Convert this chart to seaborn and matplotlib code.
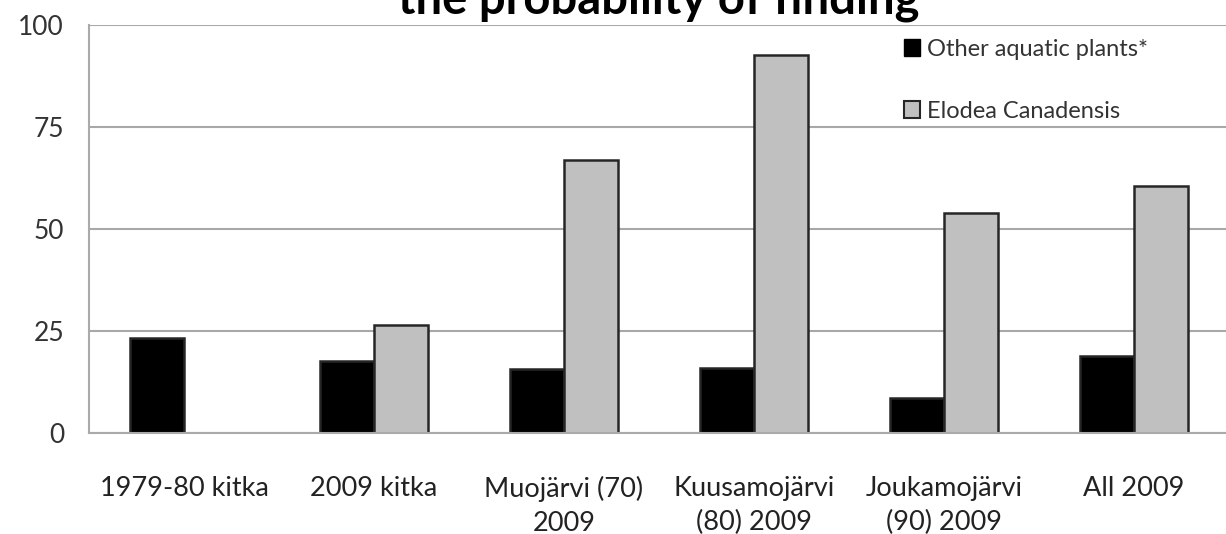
import matplotlib
matplotlib.use("Agg")
import matplotlib.pyplot as plt
import seaborn as sns
import pandas as pd
import numpy as np
from matplotlib.patches import Patch

categories = ["1979-80 kitka", "2009 kitka", "Muojärvi (70)\n2009",
              "Kuusamojärvi\n(80) 2009", "Joukamojärvi\n(90) 2009", "All 2009"]
other_plants = [23.3, 17.6, 15.7, 16.0, 8.7, 18.9]
elodea = [np.nan, 26.4, 66.9, 92.6, 53.9, 60.5]
series_names = ["Other aquatic plants*", "Elodea Canadensis"]
y_ticks = [0, 25, 50, 75, 100]
title = "the probability of finding"

sns.set_theme(style="white")
plt.rcParams['font.family'] = ['Lato', 'DejaVu Sans']

df = pd.DataFrame({
    "category": categories * 2,
    "value": other_plants + elodea,
    "series": [series_names[0]] * len(categories) + [series_names[1]] * len(categories),
})

fig = plt.figure(figsize=(12.26, 5.34), dpi=100)
ax = fig.add_axes([89 / 1226, 1 - 433 / 534, (1229 - 89) / 1226, (433 - 25) / 534])

sns.barplot(data=df, x="category", y="value", hue="series", order=categories,
            hue_order=series_names, palette=["#000000", "#C0C0C0"],
            width=0.57, gap=0, edgecolor="#262626", linewidth=1.8,
            errorbar=None, legend=False, ax=ax)

ax.set_xlim(-0.5, 5.5)
ax.set_ylim(0, 100)
ax.set_yticks(y_ticks)
ax.set_yticklabels([str(t) for t in y_ticks], fontsize=19, color="#333333")
ax.set_xticks(range(len(categories)))
ax.set_xticklabels(categories, fontsize=19.5, color="#222222", linespacing=1.45)
ax.set_xticks(np.arange(-0.5, 6.0, 1.0), minor=True)
ax.tick_params(axis="x", which="major", length=0, pad=31)
ax.tick_params(axis="x", which="minor", length=8, width=1.5, color="#AAAAAA", direction="out")
ax.tick_params(axis="y", which="major", length=9, width=1.5, color="#AAAAAA", direction="out", pad=9)
ax.set_xlabel("")
ax.set_ylabel("")

ax.yaxis.grid(True, color="#A8A8A8", linewidth=1.5)
ax.set_axisbelow(True)
for side in ["top", "right"]:
    ax.spines[side].set_visible(False)
for side in ["left", "bottom"]:
    ax.spines[side].set_color("#AAAAAA")
    ax.spines[side].set_linewidth(1.5)

handles = [Patch(facecolor="#000000", edgecolor="#000000", linewidth=1),
           Patch(facecolor="#C0C0C0", edgecolor="#262626", linewidth=1.5)]
leg = fig.legend(handles, series_names, loc="upper left",
                 bbox_to_anchor=(887 / 1226, 1 - 22 / 534), frameon=False,
                 fontsize=17, handlelength=0.7, handleheight=0.7,
                 handletextpad=0.3, labelspacing=1.75, borderpad=0.2)
for t in leg.get_texts():
    t.set_color("#333333")

fig.text(659 / 1226, 1 - 14 / 534, title, ha="center", va="baseline",
         fontsize=34, fontweight="bold", color="#000000")

fig.savefig("out.png", dpi=100)
